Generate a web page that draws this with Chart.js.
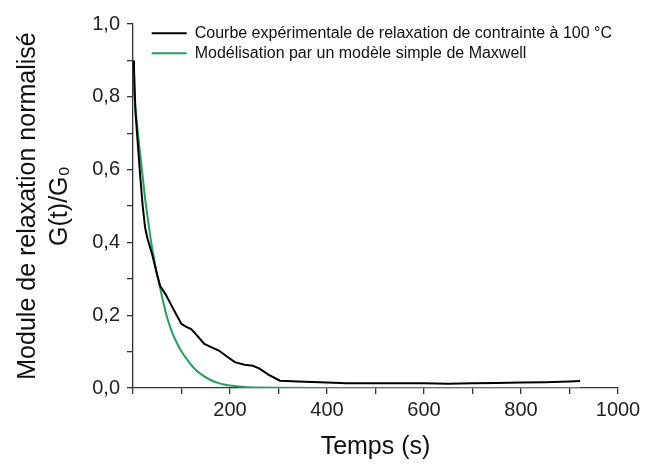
<!DOCTYPE html>
<html><head><meta charset="utf-8">
<script src="https://cdn.jsdelivr.net/npm/chart.js@4/dist/chart.umd.min.js"></script>
<style>html,body{margin:0;padding:0;background:#fff;overflow:hidden}</style>
</head><body>
<canvas id="c" width="657" height="466"></canvas>
<script>
// ---- data ----
const expTimes  = [0, 2, 5, 10, 15, 20, 25, 30, 40, 50, 56, 67, 80, 90, 100, 110, 120, 135, 147, 160, 177, 195, 210, 230, 247, 260, 280, 303, 340, 400, 440, 500, 600, 650, 700, 750, 800, 850, 900, 922];
const expValues = [0.90, 0.88, 0.76, 0.67, 0.58, 0.50, 0.44, 0.41, 0.365, 0.31, 0.28, 0.258, 0.225, 0.20, 0.176, 0.168, 0.162, 0.14, 0.121, 0.113, 0.103, 0.085, 0.071, 0.064, 0.061, 0.054, 0.036, 0.020, 0.018, 0.015, 0.013, 0.013, 0.013, 0.012, 0.013, 0.014, 0.015, 0.016, 0.018, 0.019];
const modelTimes  = [0, 5, 10, 15, 20, 25, 30, 40, 50, 56, 60, 70, 80, 90, 100, 115, 127, 140, 160, 180, 200, 230, 260, 300, 400, 600, 800, 922];
const modelValues = [0.85, 0.77, 0.70, 0.64, 0.58, 0.52, 0.47, 0.38, 0.31, 0.275, 0.25, 0.195, 0.155, 0.125, 0.10, 0.072, 0.053, 0.038, 0.022, 0.012, 0.007, 0.003, 0.0015, 0.0005, 0, 0, 0, 0];
const seriesNames = ['Courbe expérimentale de relaxation de contrainte à 100 °C', 'Modélisation par un modèle simple de Maxwell'];
const xTickLabels = [200, 400, 600, 800, 1000];
const yTickLabels = [0, 0.2, 0.4, 0.6, 0.8, 1.0];
const xTitle = 'Temps (s)';
const yTitle = ['Module de relaxation normalisé', 'G(t)/G\u2080'];

const FONT = "'Liberation Sans', Arial, sans-serif";
const AXIS = '#333333';
const GREEN = '#1fa35c';

const toPts = (ts, vs) => ts.map((t, i) => ({x: t, y: vs[i]}));

const legendMove = {
  id: 'legendMove',
  afterLayout(chart) {
    const lg = chart.legend, ca = chart.chartArea;
    if (!lg) return;
    const w = lg.width, h = lg.height;
    lg.left = ca.left + 14.7; lg.top = ca.top - 2.7;
    lg.right = lg.left + w; lg.bottom = lg.top + h;
  }
};

new Chart(document.getElementById('c'), {
  type: 'line',
  data: {
    datasets: [
      {label: seriesNames[0], data: toPts(expTimes, expValues), borderColor: '#000', backgroundColor: '#000',
       borderWidth: 2, pointRadius: 0, tension: 0},
      {label: seriesNames[1], data: toPts(modelTimes, modelValues), borderColor: GREEN, backgroundColor: GREEN,
       borderWidth: 2, pointRadius: 0, cubicInterpolationMode: 'monotone'}
    ]
  },
  options: {
    responsive: false,
    animation: false,
    devicePixelRatio: 1,
    layout: {padding: {top: 24, right: 39, left: 0, bottom: 0}},
    plugins: {
      tooltip: {enabled: false},
      legend: {
        position: 'chartArea',
        align: 'start',
        labels: {
          boxWidth: 35, boxHeight: 2, padding: 4, color: '#111',
          font: {family: FONT, size: 16},
          generateLabels: (chart) => Chart.defaults.plugins.legend.labels.generateLabels(chart).map(l => Object.assign(l, {lineWidth: 0}))
        }
      }
    },
    scales: {
      x: {
        type: 'linear', min: 0, max: 1000,
        afterFit: (s) => { s.height = 78; },
        border: {display: true, color: AXIS, width: 1.3},
        grid: {display: true, drawOnChartArea: false, drawTicks: true, tickLength: 6, color: AXIS, lineWidth: 1.3},
        ticks: {
          stepSize: 100, autoSkip: false, maxRotation: 0, padding: 4, color: '#222',
          font: {family: FONT, size: 20},
          callback: (v) => xTickLabels.includes(Math.round(v)) ? String(Math.round(v)) : ''
        },
        title: {display: true, text: xTitle, color: '#111', font: {family: FONT, size: 25, lineHeight: 1.2}, padding: {top: 0, bottom: 4}}
      },
      y: {
        type: 'linear', min: 0, max: 1,
        afterFit: (s) => { s.width = 133; },
        border: {display: true, color: AXIS, width: 1.3},
        grid: {display: true, drawOnChartArea: false, drawTicks: true, tickLength: 6, color: AXIS, lineWidth: 1.3},
        ticks: {
          stepSize: 0.1, autoSkip: false, padding: 7, color: '#222',
          font: {family: FONT, size: 20},
          callback: (v) => {
            const r = Math.round(v * 10) / 10;
            return yTickLabels.some(t => Math.abs(t - r) < 1e-9) ? r.toFixed(1).replace('.', ',') : '';
          }
        },
        title: {display: true, text: yTitle, color: '#111', font: {family: FONT, size: 25, lineHeight: 1.28}, padding: {top: 12, bottom: 0}}
      }
    }
  },
  plugins: [legendMove]
});
</script>
</body></html>
